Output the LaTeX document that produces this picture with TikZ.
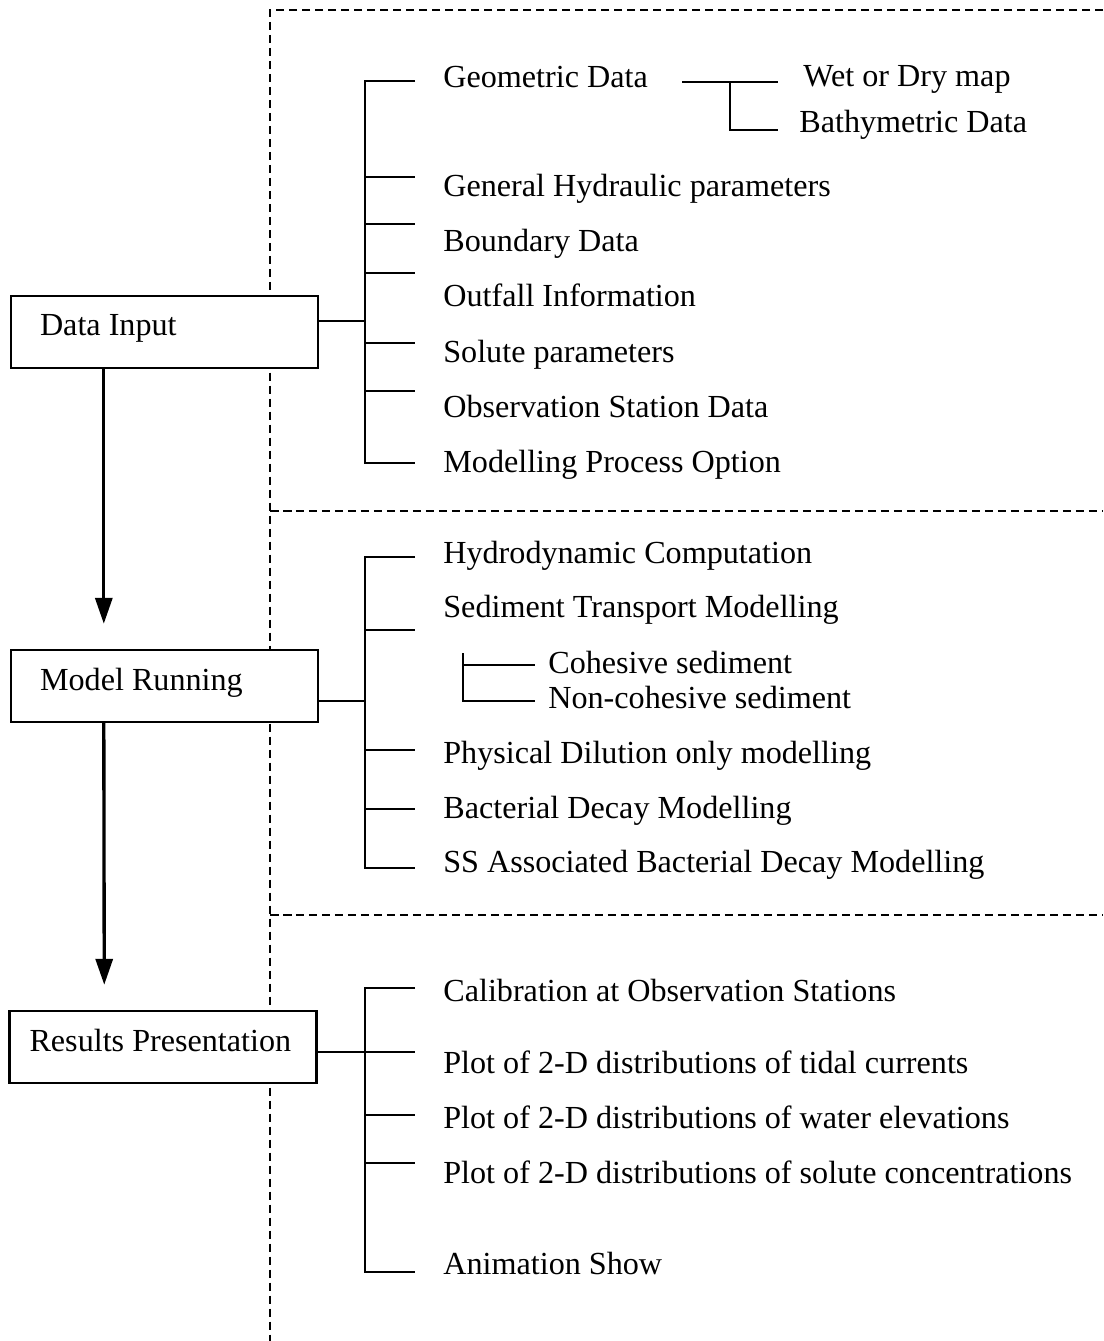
\documentclass[tikz,border=0pt]{standalone}
\usepackage{fontspec}
\setmainfont{Liberation Serif}
\usetikzlibrary{arrows.meta, calc}

\begin{document}
\begin{tikzpicture}[x=0.02cm, y=-0.02cm, >={Triangle[length=5.2mm, width=3.4mm]},
  every node/.style={font=\fontsize{18.3}{22}\selectfont, inner sep=0pt},
  stagebox/.style={draw, fill=white, line width=1.4pt, minimum width=6.14cm, minimum height=1.44cm,
    text width=4.98cm, inner xsep=0.58cm, align=flush left, text height=0.44cm, text depth=0.28cm},
  item/.style={anchor=base west},
  tree/.style={line width=1.3pt},
  zone/.style={line width=0.9pt, dash pattern=on 0.17cm off 0.09cm}]
  \useasboundingbox (0,0) rectangle (1103,1341);
  % dashed zones
  \draw[zone] (1103,10) -- (270,10) -- (270,1341);
  \draw[zone] (270,511) -- (1103,511);
  \draw[zone] (270,915) -- (1103,915);
  % stages
  \node[stagebox] (din) at (164.5,332) {Data Input};
  \node[stagebox] (mrun) at (164.5,686) {Model Running};
  \node[stagebox, text width=5.34cm, inner xsep=0.4cm] (rpres) at (163,1047) {Results Presentation};
  \draw[->, line width=1.9pt, shorten >=0.5cm] ($(din.south west)+(94,0)$) -- ($(mrun.north west)+(94,0)$);
  \draw[->, line width=1.9pt, shorten >=0.5cm] ($(mrun.south west)+(94,0)$) -- ($(rpres.north west)+(96,0)$);

  % data input items
  \node[item] (geom) at (443,88) {Geometric Data};
  \node[item] (wetdry) at (803,87) {Wet or Dry map};
  \node[item] (bathy) at (799,133) {Bathymetric Data};
  \node[item] (hydpar) at (443,197) {General Hydraulic parameters};
  \node[item] (bound) at (443,252) {Boundary Data};
  \node[item] (outfall) at (443,307) {Outfall Information};
  \node[item] (solute) at (443,362) {Solute parameters};
  \node[item] (obsdata) at (443,417) {Observation Station Data};
  \node[item] (procopt) at (443,472) {Modelling Process Option};
  \draw[tree] (415,81) -- (365,81) -- (365,463) -- (415,463);
  \foreach \y in {177,224,273,343,391}
    \draw[tree] (365,\y) -- (415,\y);
  \coordinate (dinj) at (365,321);
  \draw[tree] (din.east |- dinj) -- (dinj);
  \draw[tree] (682,82) -- (778,82);
  \draw[tree] (730,82) -- (730,130) -- (778,130);

  % model running items
  \node[item] (hydro) at (443,563) {Hydrodynamic Computation};
  \node[item] (sedtr) at (443,617) {Sediment Transport Modelling};
  \node[item] (cohes) at (548,673) {Cohesive sediment};
  \node[item] (noncohes) at (548,708) {Non-cohesive sediment};
  \node[item] (physdil) at (443,763) {Physical Dilution only modelling};
  \node[item] (bacdec) at (443,818) {Bacterial Decay Modelling};
  \node[item] (ssbac) at (443,872) {SS Associated Bacterial Decay Modelling};
  \draw[tree] (415,557) -- (365,557) -- (365,868) -- (415,868);
  \foreach \y in {630,750,809}
    \draw[tree] (365,\y) -- (415,\y);
  \coordinate (mrunj) at (365,701);
  \draw[tree] (mrun.east |- mrunj) -- (mrunj);
  \draw[tree] (463,653) -- (463,701) -- (535,701);
  \draw[tree] (463,665) -- (535,665);

  % results items
  \node[item] (calib) at (443,1001) {Calibration at Observation Stations};
  \node[item] (plotcur) at (443,1073) {Plot of 2-D distributions of tidal currents};
  \node[item] (plotelev) at (443,1128) {Plot of 2-D distributions of water elevations};
  \node[item] (plotconc) at (443,1183) {Plot of 2-D distributions of solute concentrations};
  \node[item] (anim) at (443,1274) {Animation Show};
  \draw[tree] (415,988) -- (365,988) -- (365,1272) -- (415,1272);
  \foreach \y in {1115,1163}
    \draw[tree] (365,\y) -- (415,\y);
  \coordinate (rpresj) at (415,1052);
  \draw[tree] (rpres.east |- rpresj) -- (rpresj);
\end{tikzpicture}
\end{document}
